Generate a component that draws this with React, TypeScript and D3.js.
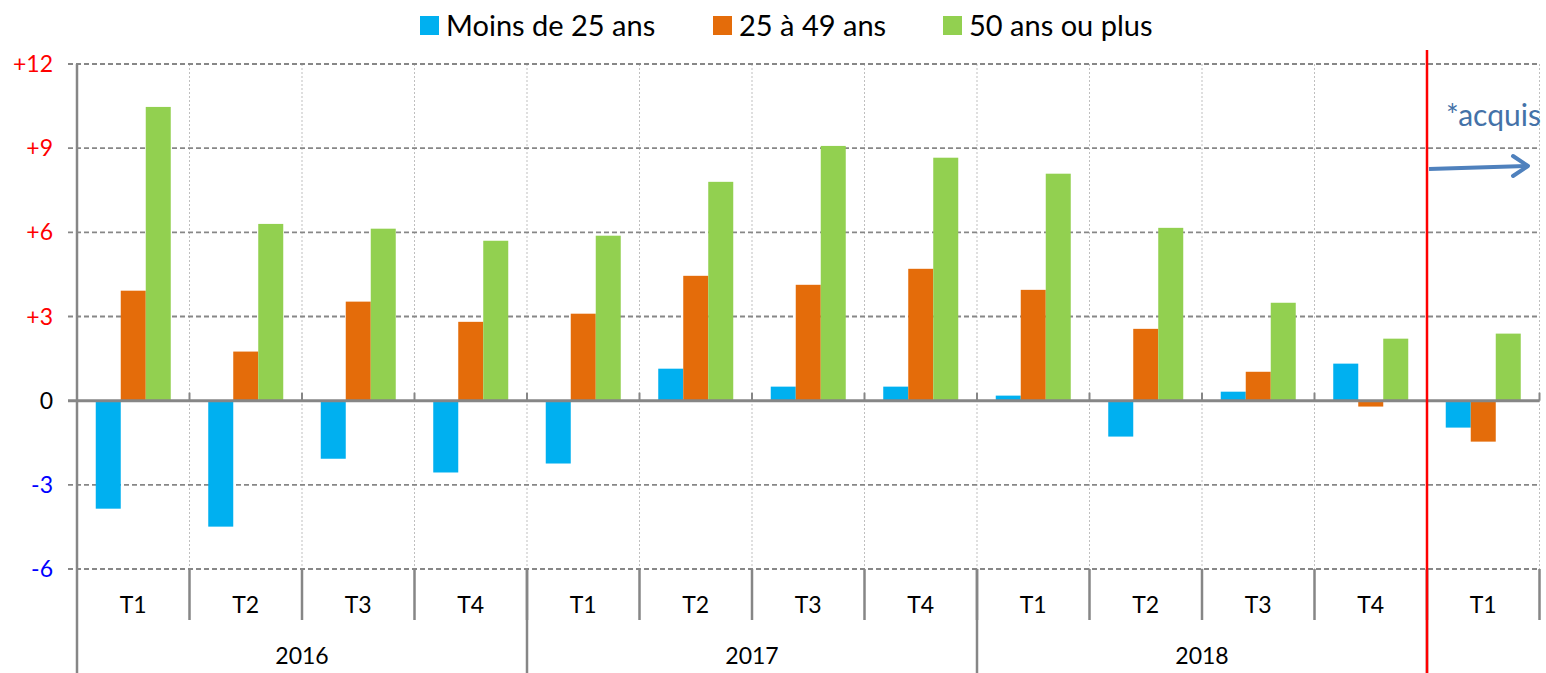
import { useEffect, useRef } from 'react';
import * as d3 from 'd3';

const quarters = ['T1', 'T2', 'T3', 'T4', 'T1', 'T2', 'T3', 'T4', 'T1', 'T2', 'T3', 'T4', 'T1'];
const yearGroups: [string, number][] = [['2016', 4], ['2017', 4], ['2018', 4], ['', 1]];

const seriesNames = ['Moins de 25 ans', '25 à 49 ans', '50 ans ou plus'];
const under25 = [-3.85, -4.49, -2.07, -2.56, -2.24, 1.14, 0.5, 0.5, 0.18, -1.28, 0.32, 1.32, -0.96];
const from25to49 = [3.92, 1.75, 3.53, 2.81, 3.1, 4.45, 4.13, 4.7, 3.95, 2.56, 1.03, -0.21, -1.46];
const over50 = [10.47, 6.3, 6.13, 5.7, 5.88, 7.8, 9.08, 8.66, 8.09, 6.16, 3.49, 2.21, 2.39];

const yTicks = [-6, -3, 0, 3, 6, 9, 12];
const colors = ['#00B0F0', '#E46C0A', '#92D050'];

const W = 1546;
const H = 673;

const App = () => {
  const svgRef = useRef<SVGSVGElement | null>(null);

  useEffect(() => {
    const svg = d3.select(svgRef.current);
    svg.selectAll('*').remove();

    const font = 'Lato, "Open Sans", sans-serif';
    const left = 77;
    const right = 1539.5;
    const top = 64;
    const bottom = 569;

    const idx = quarters.map((_, i) => i);
    const x = d3.scaleBand<number>().domain(idx).range([left, right]).paddingInner(0).paddingOuter(0);
    const xs = d3.scaleBand<number>().domain([0, 1, 2]).range([0, x.bandwidth()]).paddingInner(0).paddingOuter(0.75);
    const y = d3.scaleLinear().domain([-6, 12]).range([bottom, top]);

    const series = [under25, from25to49, over50];
    const bounds = idx.slice(1).concat([quarters.length]);
    const bx = (d: number) => (d === quarters.length ? right : x(d)!);

    // vertical category gridlines (dotted)
    svg.append('g')
      .selectAll('line')
      .data(bounds)
      .enter()
      .append('line')
      .attr('x1', bx)
      .attr('x2', bx)
      .attr('y1', top)
      .attr('y2', bottom)
      .attr('stroke', '#BFBFBF')
      .attr('stroke-width', 1)
      .attr('stroke-dasharray', '2,2');

    // horizontal gridlines (dashed)
    svg.append('g')
      .selectAll('line')
      .data(yTicks.filter(t => t !== 0))
      .enter()
      .append('line')
      .attr('x1', 68)
      .attr('x2', right)
      .attr('y1', d => y(d))
      .attr('y2', d => y(d))
      .attr('stroke', '#878787')
      .attr('stroke-width', 1.8)
      .attr('stroke-dasharray', '5,3');

    // bars
    series.forEach((vals, s) => {
      svg.append('g')
        .selectAll('rect')
        .data(vals)
        .enter()
        .append('rect')
        .attr('x', (_, i) => x(i)! + xs(s)!)
        .attr('width', xs.bandwidth())
        .attr('y', d => y(Math.max(0, d)))
        .attr('height', d => Math.abs(y(d) - y(0)))
        .attr('fill', colors[s]);
    });

    // zero line + small ticks
    svg.append('line')
      .attr('x1', 68).attr('x2', right)
      .attr('y1', y(0)).attr('y2', y(0))
      .attr('stroke', '#868686').attr('stroke-width', 3);
    svg.append('g')
      .selectAll('line')
      .data(bounds)
      .enter()
      .append('line')
      .attr('x1', bx)
      .attr('x2', bx)
      .attr('y1', y(0) - 8)
      .attr('y2', y(0))
      .attr('stroke', '#868686')
      .attr('stroke-width', 2);

    // left axis
    svg.append('line')
      .attr('x1', left).attr('x2', left)
      .attr('y1', top).attr('y2', H)
      .attr('stroke', '#868686').attr('stroke-width', 2.5);

    // y labels
    svg.append('g')
      .selectAll('text')
      .data(yTicks)
      .enter()
      .append('text')
      .attr('x', 53)
      .attr('y', d => y(d))
      .attr('dy', '0.35em')
      .attr('text-anchor', 'end')
      .style('font-family', font)
      .style('font-size', '23px')
      .attr('fill', d => (d > 0 ? '#FF0000' : d < 0 ? '#0000FF' : '#000000'))
      .text(d => (d > 0 ? `+${d}` : `${d}`));

    // category axis: quarter ticks
    svg.append('g')
      .selectAll('line')
      .data(bounds)
      .enter()
      .append('line')
      .attr('x1', bx)
      .attr('x2', bx)
      .attr('y1', bottom)
      .attr('y2', 620)
      .attr('stroke', '#868686')
      .attr('stroke-width', 2.5);

    svg.append('g')
      .selectAll('text')
      .data(quarters)
      .enter()
      .append('text')
      .attr('x', (_, i) => x(i)! + x.bandwidth() / 2)
      .attr('y', 605)
      .attr('dy', '0.35em')
      .attr('text-anchor', 'middle')
      .style('font-family', font)
      .style('font-size', '23px')
      .attr('fill', '#000')
      .text(d => d);

    // year groups
    let start = 0;
    yearGroups.forEach(([label, n]) => {
      const x0 = x(start)!;
      const x1 = start + n >= quarters.length ? right : x(start + n)!;
      if (start > 0) {
        svg.append('line')
          .attr('x1', x0).attr('x2', x0)
          .attr('y1', bottom).attr('y2', H)
          .attr('stroke', '#868686').attr('stroke-width', 2.5);
      }
      if (label) {
        svg.append('text')
          .attr('x', (x0 + x1) / 2)
          .attr('y', 656)
          .attr('dy', '0.35em')
          .attr('text-anchor', 'middle')
          .style('font-family', font)
          .style('font-size', '23px')
          .attr('fill', '#000')
          .text(label);
      }
      start += n;
    });

    // red separator line
    const sep = x(quarters.length - 1)!;
    svg.append('line')
      .attr('x1', sep).attr('x2', sep)
      .attr('y1', 50).attr('y2', H)
      .attr('stroke', '#FF0000').attr('stroke-width', 2.5);

    // acquis annotation
    svg.append('text')
      .attr('x', 1446)
      .attr('y', 126)
      .style('font-family', font)
      .style('font-size', '30px')
      .attr('fill', '#4472A8')
      .text('*acquis');

    svg.append('line')
      .attr('x1', sep + 2).attr('y1', 169)
      .attr('x2', 1526).attr('y2', 166)
      .attr('stroke', '#4F81BD').attr('stroke-width', 4);
    svg.append('path')
      .attr('d', 'M1513,156 L1528,166 L1513,176')
      .attr('fill', 'none')
      .attr('stroke', '#4F81BD')
      .attr('stroke-width', 4)
      .attr('stroke-linecap', 'round')
      .attr('stroke-linejoin', 'round');

    // legend
    const legendX = [420, 713, 943];
    const legend = svg.append('g');
    seriesNames.forEach((name, i) => {
      legend.append('rect')
        .attr('x', legendX[i])
        .attr('y', 16)
        .attr('width', 19)
        .attr('height', 19)
        .attr('fill', colors[i]);
      legend.append('text')
        .attr('x', legendX[i] + 26)
        .attr('y', 26)
        .attr('dy', '0.35em')
        .style('font-family', font)
        .style('font-size', '29px')
        .attr('fill', '#000')
        .text(name);
    });
  }, []);

  return (
    <div style={{ position: 'absolute', left: 0, top: 0 }}>
      <svg ref={svgRef} width={W} height={H} style={{ display: 'block', background: '#fff' }} />
    </div>
  );
};

export default App;
